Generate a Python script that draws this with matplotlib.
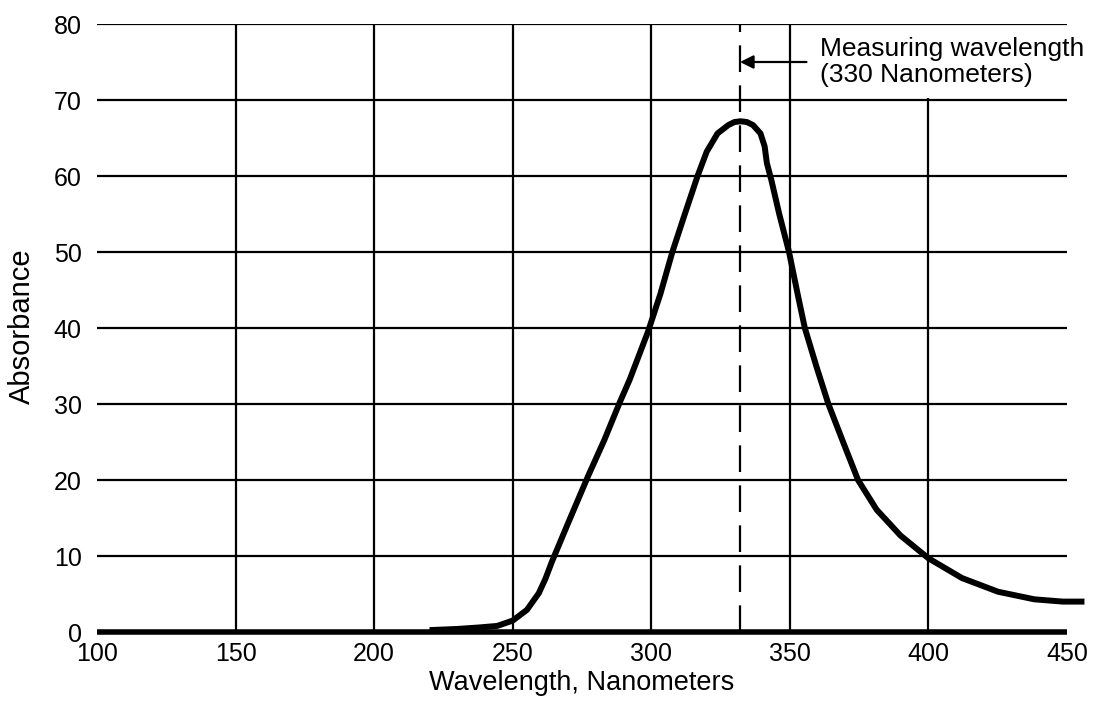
import matplotlib
matplotlib.use('Agg')
import matplotlib.pyplot as plt

plt.rcParams['font.family'] = ['Liberation Sans', 'DejaVu Sans']

# ---- data ----
x_ticks = [100, 150, 200, 250, 300, 350, 400, 450]
y_ticks = [0, 10, 20, 30, 40, 50, 60, 70, 80]
grid_x = [150, 200, 250, 300, 350, 400]
grid_x_top = [80, 80, 80, 80, 80, 70.3]
measuring_wavelength = 332

wavelength = [220, 230, 238, 244.4, 250, 255.1, 259.4, 261.8, 264.2, 270.3,
              277.3, 283.1, 288.6, 292.2, 298.9, 303.3, 307.6, 312.2, 316.7,
              320, 323.9, 327.8, 330, 332.2, 334.5, 336.7, 339.4, 340.9, 341.7,
              343.3, 346.1, 349.7, 352.9, 355.4, 359.7, 363.9, 369.1, 374.6,
              381.3, 389.9, 400, 412.1, 425.1, 438.2, 448.5, 456.3]
absorbance = [0.25, 0.4, 0.6, 0.8, 1.5, 2.9, 5.1, 7.0, 9.3, 14.6,
              20.6, 25.3, 30.2, 33.2, 39.6, 44.5, 50, 55.1, 60,
              63.2, 65.6, 66.7, 67.1, 67.2, 67.1, 66.7, 65.6, 63.9, 61.7,
              59.5, 55.1, 50, 44.3, 40, 34.8, 30, 25.1, 20,
              16.1, 12.7, 9.7, 7.1, 5.3, 4.3, 4.0, 4.0]

# ---- figure ----
fig = plt.figure(figsize=(11.01, 7.03), dpi=100)
ax = fig.add_axes([97 / 1101, (703 - 632) / 703, 970 / 1101, 608 / 703])
ax.set_xlim(100, 450)
ax.set_ylim(0, 80)

ax.set_xticks(x_ticks)
ax.set_yticks(y_ticks)
ax.tick_params(axis='both', length=0, labelsize=18)
ax.tick_params(axis='x', pad=7)
ax.tick_params(axis='y', pad=11)

for s in ['top', 'right', 'left']:
    ax.spines[s].set_visible(False)
ax.spines['bottom'].set_linewidth(4)
ax.spines['bottom'].set_capstyle('butt')

# grid
ax.hlines(y_ticks[1:], 100, 450, color='black', lw=1.6, zorder=1)
ax.vlines(grid_x, 0, grid_x_top, color='black', lw=1.6, zorder=1)

# dashed measuring line
ax.vlines(measuring_wavelength, 0, 80, color='black', lw=1.6,
          linestyles=(0, (12, 6)), zorder=2)

# curve
ax.plot(wavelength, absorbance, color='black', lw=4.3,
        solid_joinstyle='round', solid_capstyle='butt', clip_on=False, zorder=3)

# annotation
ax.annotate('', xy=(measuring_wavelength, 75), xytext=(356, 75),
            arrowprops=dict(arrowstyle='-|>', lw=1.6, color='black',
                            mutation_scale=20, shrinkA=0, shrinkB=0))
ax.text(361, 75, 'Measuring wavelength\n(330 Nanometers)', ha='left',
        va='center', fontsize=19, linespacing=1.1)

fig.text(22 / 1101, (703 - 326) / 703, 'Absorbance', rotation=90,
         ha='center', va='center', fontsize=21)
fig.text(582 / 1101, (703 - 683) / 703, 'Wavelength, Nanometers',
         ha='center', va='center', fontsize=19.5)

fig.savefig('out.png', dpi=100)
